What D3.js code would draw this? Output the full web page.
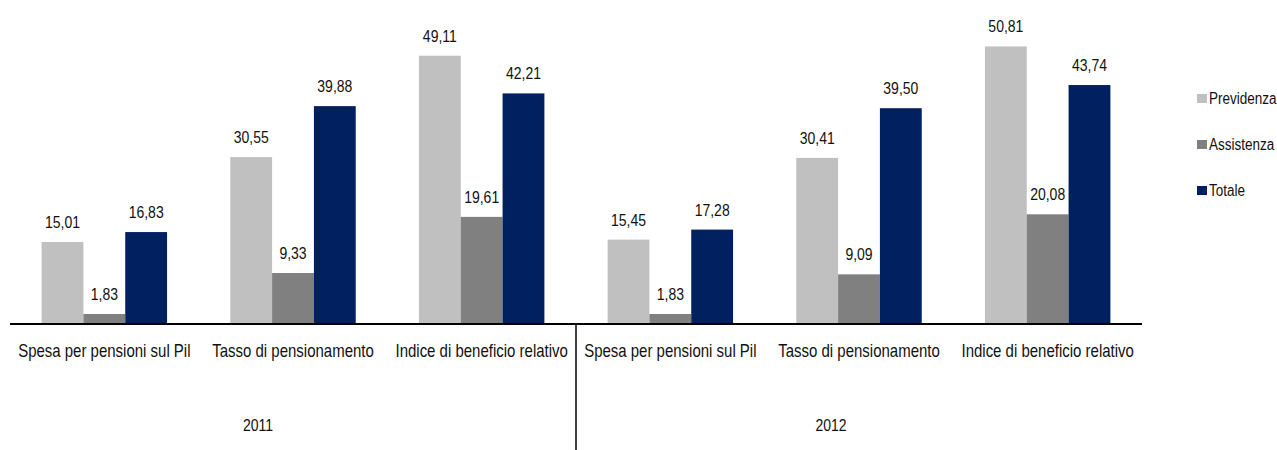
<!DOCTYPE html>
<html>
<head>
<meta charset="utf-8">
<script src="https://cdn.jsdelivr.net/npm/d3@7"></script>
<style>
  html, body { margin: 0; padding: 0; background: #fff; }
  svg { display: block; font-family: Arial, "Liberation Sans", sans-serif; }
</style>
</head>
<body>
<div id="chart"></div>
<script>
/* ── data ─────────────────────────────────────────────── */
const years = ['2011', '2012'];
const indicators = ['Spesa per pensioni sul Pil', 'Tasso di pensionamento', 'Indice di beneficio relativo'];
const seriesNames = ['Previdenza', 'Assistenza', 'Totale'];
const seriesColors = ['#c0c0c0', '#808080', '#002060'];

// values per series, ordered 2011 (3 indicators) then 2012 (3 indicators)
const previdenza = [15.01, 30.55, 49.11, 15.45, 30.41, 50.81];
const assistenza = [1.83, 9.33, 19.61, 1.83, 9.09, 20.08];
const totale     = [16.83, 39.88, 42.21, 17.28, 39.50, 43.74];

/* ── layout ───────────────────────────────────────────── */
const W = 1277, H = 450;
const x0 = 10, x1 = 1142, baseY = 324;
const SY = 1.2;   /* text in the source looks vertically stretched */
const fmt = v => d3.format('.2f')(v).replace('.', ',');
const place = (tx, ty) => `translate(${tx},${ty}) scale(1,${SY})`;

const cats = [];
years.forEach(y => indicators.forEach(ind => cats.push(y + '|' + ind)));
const values = [previdenza, assistenza, totale];

const svg = d3.select('#chart').append('svg')
  .attr('width', W).attr('height', H);

const x = d3.scaleBand().domain(cats).range([x0, x1])
  .paddingInner(0.335).paddingOuter(0.1675);
const xs = d3.scaleBand().domain(seriesNames).range([0, x.bandwidth()]);
const y = d3.scaleLinear().domain([0, 55]).range([baseY, baseY - 55 * 5.463]);

/* bars */
seriesNames.forEach((s, si) => {
  const g = svg.append('g');
  g.selectAll('rect').data(values[si]).join('rect')
    .attr('x', (d, i) => x(cats[i]) + xs(s))
    .attr('y', d => y(d))
    .attr('width', xs.bandwidth())
    .attr('height', d => y(0) - y(d))
    .attr('fill', seriesColors[si]);
  g.selectAll('text').data(values[si]).join('text')
    .attr('transform', (d, i) => place(x(cats[i]) + xs(s) + xs.bandwidth() / 2, y(d) - 14))
    .attr('text-anchor', 'middle')
    .attr('font-size', 14).attr('fill', '#111')
    .text(fmt);
});

/* axis line */
svg.append('line')
  .attr('x1', x0).attr('x2', x1).attr('y1', baseY).attr('y2', baseY)
  .attr('stroke', '#000').attr('stroke-width', 2);

/* category labels */
svg.append('g').selectAll('text').data(cats).join('text')
  .attr('transform', d => place(x(d) + x.bandwidth() / 2, 357))
  .attr('text-anchor', 'middle')
  .attr('font-size', 15).attr('fill', '#111')
  .text(d => d.split('|')[1]);

/* year divider + labels */
const midX = x0 + (x1 - x0) / 2;
svg.append('line')
  .attr('x1', midX).attr('x2', midX).attr('y1', baseY).attr('y2', H)
  .attr('stroke', '#000').attr('stroke-width', 1.5);

const yearShift = [-35, -28];
years.forEach((yr, i) => {
  const a = i === 0 ? x0 : midX, b = i === 0 ? midX : x1;
  svg.append('text')
    .attr('transform', place((a + b) / 2 + yearShift[i], 431))
    .attr('text-anchor', 'middle')
    .attr('font-size', 14).attr('fill', '#111')
    .text(yr);
});

/* legend */
const leg = svg.append('g').attr('transform', 'translate(1197,98)');
seriesNames.forEach((s, i) => {
  const gl = leg.append('g').attr('transform', `translate(0,${i * 46})`);
  gl.append('rect').attr('x', 0).attr('y', -4).attr('width', 10).attr('height', 9)
    .attr('fill', seriesColors[i]);
  gl.append('text').attr('transform', place(12, 6))
    .attr('font-size', 13.5).attr('fill', '#111').text(s);
});
</script>
</body>
</html>
